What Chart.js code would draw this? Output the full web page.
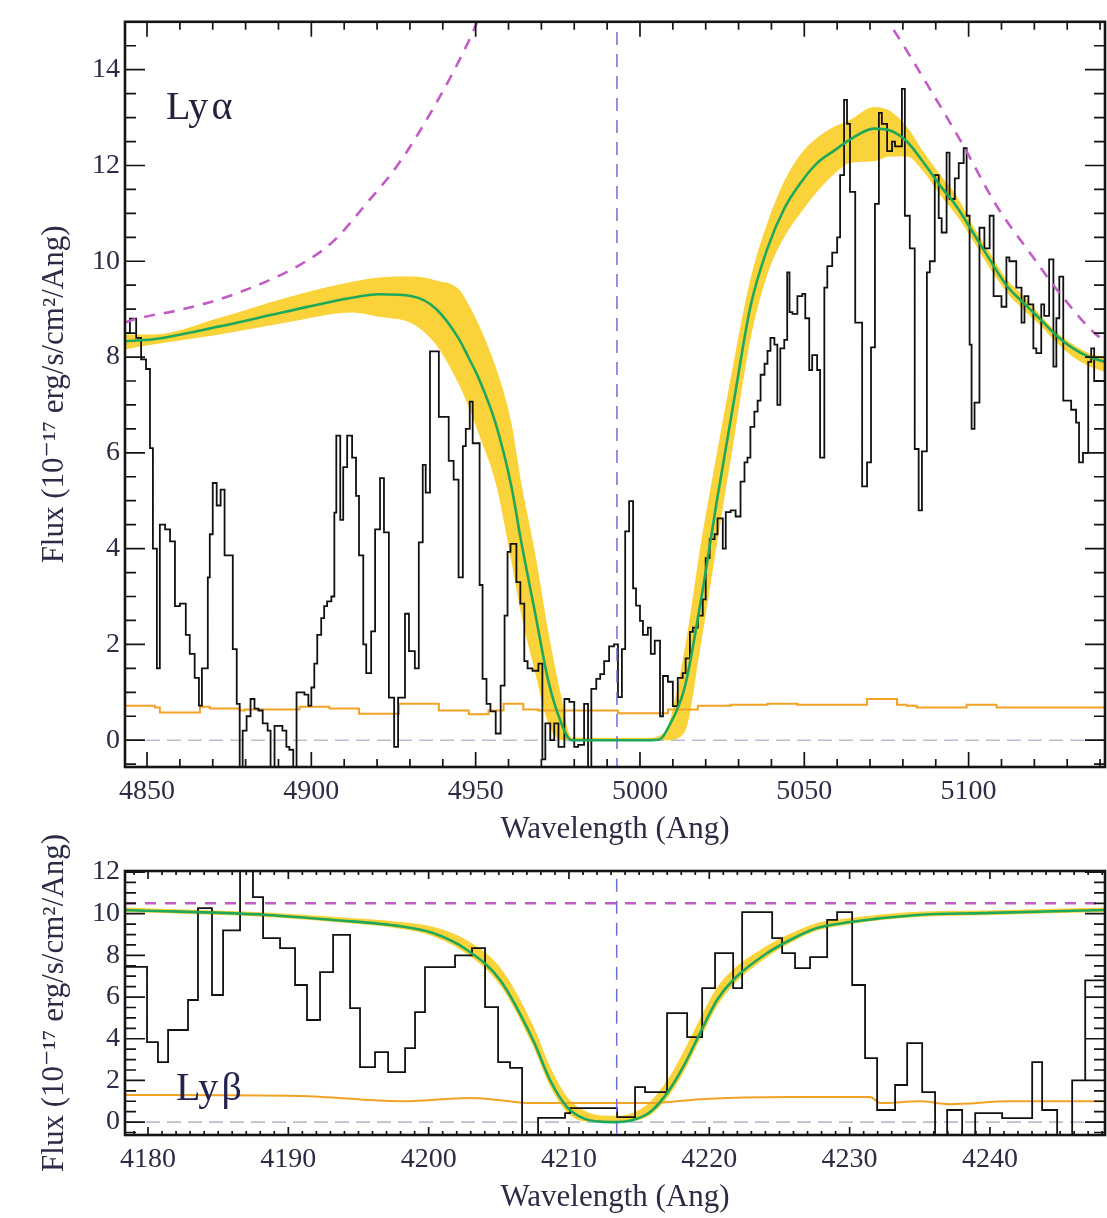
<!DOCTYPE html>
<html><head><meta charset="utf-8">
<script src="https://cdn.jsdelivr.net/npm/chart.js@4.4.1/dist/chart.umd.min.js"></script>
<style>
html,body{margin:0;padding:0;background:#fff;}
#wrap{position:relative;width:1107px;height:1218px;overflow:hidden;background:#fff;}
canvas{position:absolute;left:0;}
#c1{top:0;}
#c2{top:810px;}
</style></head><body>
<div id="wrap"><canvas id="c1" width="1107" height="850"></canvas><canvas id="c2" width="1107" height="408"></canvas></div>
<script>
// ---------- Ly alpha panel ----------
const lyaXRange = [4843.3, 5141.5];
const lyaYRange = [-0.56, 15.0];
const lyaXTicks = [4850, 4900, 4950, 5000, 5050, 5100];
const lyaYTicks = [0, 2, 4, 6, 8, 10, 12, 14];
const lyaCenter = 4993.0;

const lyaWave = [4843.3,4844.8,4846.7,4848.2,4849.7,4850.9,4851.8,4853.0,4853.9,4855.5,
4857.0,4858.5,4860.0,4861.8,4863.0,4864.5,4865.8,4866.7,4868.5,4869.1,
4870.0,4871.2,4872.4,4873.6,4876.1,4877.3,4878.2,4879.1,4880.3,4881.5,
4882.7,4883.9,4885.2,4886.7,4887.6,4888.8,4891.2,4892.4,4893.3,4894.5,
4895.5,4897.9,4899.1,4900.0,4900.9,4901.8,4903.0,4903.9,4904.8,4906.1,
4907.0,4907.6,4908.8,4909.7,4910.9,4912.4,4913.6,4914.5,4915.8,4916.7,
4918.2,4919.4,4920.9,4922.1,4923.6,4925.2,4926.4,4928.5,4929.7,4931.5,
4932.7,4933.9,4934.8,4936.1,4938.8,4941.8,4943.3,4944.8,4946.1,4947.0,
4948.2,4949.1,4951.2,4952.1,4953.3,4954.5,4956.1,4957.6,4958.8,4959.7,
4960.6,4962.4,4963.6,4964.8,4965.8,4967.3,4969.1,4970.3,4971.2,4972.7,
4973.9,4975.2,4977.0,4978.5,4980.0,4981.2,4983.0,4984.2,4985.2,4986.7,
4987.9,4989.1,4990.6,4992.1,4993.3,4994.5,4995.5,4996.7,4997.9,4998.8,
5000.0,5000.9,5002.4,5003.3,5004.5,5006.1,5007.0,5008.5,5010.0,5011.5,
5013.0,5013.9,5015.2,5016.1,5017.6,5019.1,5020.0,5021.2,5022.7,5023.6,
5025.2,5026.1,5027.6,5029.1,5030.6,5031.8,5032.7,5033.6,5034.8,5035.8,
5036.7,5037.9,5038.8,5039.7,5040.9,5041.8,5042.7,5043.9,5044.8,5045.5,
5046.4,5047.9,5049.4,5050.3,5051.5,5052.4,5053.9,5054.8,5056.1,5057.0,
5058.5,5060.0,5060.9,5062.1,5063.0,5063.9,5065.5,5067.6,5069.1,5070.3,
5071.5,5072.7,5073.6,5075.2,5076.7,5077.6,5079.7,5080.6,5082.1,5083.6,
5084.8,5085.8,5087.3,5088.2,5089.7,5090.9,5091.8,5093.3,5094.2,5095.8,
5097.0,5098.5,5099.4,5100.3,5100.9,5101.8,5103.3,5104.8,5106.4,5107.6,
5110.0,5111.5,5112.4,5114.5,5116.1,5117.0,5118.2,5119.7,5120.6,5122.1,
5123.0,5124.5,5125.8,5126.7,5127.6,5128.8,5131.2,5132.7,5133.6,5134.8,
5136.4,5137.3,5138.2,5139.4,5141.5];
const lyaFlux = [8.2,8.5,8.8,8.4,7.95,7.75,6.1,4.0,1.5,4.5,
4.4,4.15,2.8,2.85,2.2,1.8,1.3,0.72,1.5,3.4,
4.3,5.37,4.9,5.23,3.86,1.9,0.76,-0.6,0.2,0.5,
0.86,0.66,0.62,0.35,0.2,-0.6,0.3,0.2,-0.14,-0.2,
-0.6,1.0,0.95,0.72,1.1,1.6,2.2,2.55,2.8,2.9,
3.0,4.75,6.36,4.6,5.7,6.36,5.9,5.1,3.86,2.0,
1.4,2.27,4.4,5.47,4.34,0.89,-0.14,0.89,2.64,1.86,
1.5,4.13,5.75,5.17,8.12,6.75,5.83,5.44,3.4,6.14,
6.5,7.07,6.2,3.24,1.28,0.76,0.6,0.14,1.14,2.6,
3.93,4.1,3.3,2.85,1.65,1.5,1.45,1.6,-0.4,0.35,
0.0,0.35,-0.14,0.86,0.8,-0.14,-0.1,0.76,-0.6,1.07,
1.28,1.38,1.65,1.96,2.0,0.9,1.9,4.36,4.99,3.17,
2.81,2.49,2.2,2.35,1.8,2.08,0.5,1.34,1.22,0.71,
1.3,1.4,1.71,2.26,2.35,2.6,2.94,3.8,4.2,4.3,
4.63,4.0,4.76,4.8,4.67,5.4,5.8,5.9,6.54,6.86,
7.09,7.63,7.86,8.13,8.4,8.26,7.0,8.18,8.36,9.77,
8.94,8.9,9.27,9.32,8.81,7.73,8.04,7.73,5.9,9.45,
9.9,10.18,10.5,11.8,13.37,12.87,11.45,8.72,5.3,5.8,
8.2,11.2,13.1,12.87,12.3,12.5,12.4,13.6,10.95,10.27,
6.08,4.8,6.03,9.77,10.0,11.8,10.9,10.6,12.27,11.3,
11.73,12.05,12.36,10.95,8.26,6.5,7.05,10.7,10.27,10.95,
9.27,9.05,10.08,10.0,9.45,8.72,9.27,9.1,8.18,8.08,
9.1,8.86,10.04,7.8,8.81,9.68,7.09,6.9,6.63,5.8,
6.0,7.9,8.18,7.5,7.5];

const lyaErrWave = [4843.3,4852.4,4853.9,4866.1,4869.1,4878.2,4879.7,4896.4,4905.5,4914.5,4926.7,4938.8,4947.9,4953.9,4958.5,4964.5,4969.1,4993.3,5008.5,5017.6,5027.6,5038.8,5047.9,5069.1,5078.2,5081.2,5084.2,5099.4,5108.5,5119.1,5141.5];
const lyaErrFlux = [0.76,0.72,0.68,0.58,0.70,0.66,0.62,0.64,0.70,0.66,0.55,0.76,0.62,0.54,0.62,0.76,0.64,0.62,0.56,0.64,0.72,0.74,0.76,0.74,0.86,0.74,0.72,0.68,0.74,0.68,0.68];

const lyaModelWave = [4843.3,4851.8,4872.1,4892.4,4912.4,4920.6,4930.6,4937.9,4944.8,4947.9,4950.9,4956.1,4960.9,4963.9,4968.2,4972.1,4976.1,4979.1,4987.3,5002.4,5006.1,5008.5,5013.6,5018.5,5023.6,5028.8,5033.6,5038.8,5043.9,5048.8,5053.9,5059.1,5063.9,5071.2,5076.1,5081.2,5086.4,5091.2,5096.4,5101.5,5106.4,5111.5,5116.7,5121.5,5126.7,5131.8,5136.7,5141.5];
const lyaModelFlux = [8.33,8.37,8.64,8.95,9.24,9.31,9.27,9.01,8.39,7.98,7.56,6.61,5.29,4.13,2.62,1.24,0.35,0.0,0.0,0.0,0.02,0.25,1.1,2.9,5.08,7.17,9.05,10.27,11.1,11.63,12.05,12.31,12.54,12.77,12.73,12.5,12.05,11.59,11.14,10.58,10.04,9.5,9.13,8.81,8.45,8.18,8.0,7.9];
const lyaModelHigh = [8.47,8.47,8.82,9.24,9.57,9.66,9.68,9.6,9.42,9.09,8.68,7.79,6.61,5.37,3.86,2.27,0.89,0.06,0.05,0.05,0.1,0.27,1.9,4.09,6.07,8.0,9.63,10.81,11.67,12.23,12.58,12.81,12.95,13.22,13.14,12.81,12.27,11.82,11.36,10.72,10.19,9.63,9.28,8.9,8.53,8.26,8.08,8.0];
const lyaModelLow = [8.16,8.26,8.47,8.72,8.93,8.84,8.7,8.26,7.44,6.95,6.40,5.37,3.72,2.62,1.38,0.35,0.0,0.0,0.0,0.0,0.0,0.0,0.17,1.98,4.17,6.36,8.37,9.73,10.5,11.0,11.45,11.82,12.05,12.09,12.19,12.19,11.86,11.4,10.95,10.41,9.86,9.36,8.99,8.68,8.31,8.0,7.81,7.69];

const lyaContWave = [4843.3,4845.8,4861.0,4876.1,4896.4,4906.4,4916.7,4926.7,4938.8,4947.9,4956.0,4960.0,5070.0,5076.1,5088.2,5098.5,5108.5,5118.5,5128.8,5138.8,5141.5];
const lyaContFlux = [8.72,8.78,9.0,9.3,9.92,10.4,11.2,12.05,13.4,14.6,15.9,null,15.5,14.94,13.6,12.4,11.16,10.19,9.24,8.47,8.35];

// ---------- Ly beta panel ----------
const lybXRange = [4178.36, 4248.2];
const lybYRange = [-0.62, 12.05];
const lybXTicks = [4180, 4190, 4200, 4210, 4220, 4230, 4240];
const lybYTicks = [0, 2, 4, 6, 8, 10, 12];
const lybCenter = 4213.4;

const lybWave = [4178.36,4179.93,4180.71,4181.43,4182.85,4183.56,4184.56,4185.35,4186.56,4187.48,
4188.20,4189.41,4190.48,4191.33,4192.26,4193.19,4194.40,4195.11,4196.18,4197.11,
4198.32,4199.03,4199.74,4201.88,4203.09,4204.02,4204.95,4205.80,4206.66,4207.80,
4209.72,4210.08,4213.43,4214.71,4215.42,4216.99,4218.42,4219.49,4220.41,4221.70,
4222.34,4224.48,4225.19,4226.11,4227.18,4228.40,4229.11,4230.18,4231.10,4231.96,
4233.24,4234.10,4235.17,4236.09,4236.95,4238.02,4238.95,4240.87,4243.01,4243.72,
4244.79,4245.86,4246.79,4247.64,4248.35];
const lybFlux = [7.15,7.45,3.84,2.88,4.42,5.86,10.27,6.1,9.2,12.5,
10.8,8.83,8.35,6.58,4.9,7.2,8.98,5.47,2.64,3.36,
2.4,3.55,5.28,7.44,8.0,8.35,5.52,2.88,2.6,-0.7,
0.2,0.43,0.67,0.24,1.68,1.44,5.23,4.08,6.43,8.11,
6.43,10.08,8.83,8.11,7.39,7.92,9.7,10.08,6.58,3.07,
0.58,1.78,3.79,1.44,-0.7,0.58,-0.7,0.43,0.19,2.88,
0.58,-0.7,2.0,6.8,6.8];

const lybErrWave = [4178.36,4190.83,4197.96,4202.95,4205.09,4207.23,4215.78,4219.34,4225.76,4231.46,4232.17,4235.02,4237.16,4241.44,4248.35];
const lybErrFlux = [1.3,1.25,1.0,1.15,1.05,0.91,0.91,1.1,1.2,1.2,0.91,1.0,0.86,1.0,1.0];

const lybModelWave = [4178.36,4188.48,4193.19,4197.96,4200.31,4202.74,4205.09,4207.44,4208.65,4209.86,4211.0,4212.22,4213.43,4214.57,4215.78,4216.99,4218.13,4219.34,4220.55,4221.70,4224.12,4225.76,4227.68,4230.04,4234.81,4239.52,4248.35];
const lybModelFlux = [10.18,9.94,9.7,9.4,9.07,8.26,6.82,3.94,2.02,0.72,0.19,0.02,0.0,0.1,0.48,1.39,2.64,4.27,5.86,6.82,8.11,8.74,9.31,9.6,9.94,10.03,10.18];
const lybModelHigh = [10.3,10.06,9.85,9.6,9.37,8.71,7.42,4.64,2.67,1.22,0.59,0.32,0.3,0.45,0.98,1.99,3.34,4.97,6.46,7.32,8.46,9.04,9.56,9.8,10.09,10.15,10.3];
const lybModelLow = [10.08,9.84,9.6,9.28,8.92,8.06,6.57,3.64,1.72,0.47,0.04,0.0,0.0,0.05,0.33,1.14,2.34,3.97,5.56,6.57,7.91,8.59,9.19,9.5,9.84,9.93,10.08];

const lybContWave = [4178.36, 4248.35];
const lybContFlux = [10.5, 10.5];

// ---------- styling ----------
const SERIF = '"Liberation Serif", "DejaVu Serif", serif';
const TXT = '#2c2c46';
const YELLOW = 'rgb(250,210,58)';
const GREEN = '#1ea85c';
const ORANGE = '#f2a325';
const MAGENTA = '#c25cc6';
const BLUEV = '#6e6ed8';
const ZEROC = '#b9c0cd';

const pts = (xs, ys) => xs.map((x, i) => ({x: x, y: ys[i]}));

const framePlugin = {
  id: 'frameTicks',
  afterDatasetsDraw(chart, args, o) {
    const ctx = chart.ctx, a = chart.chartArea;
    const xs = chart.scales.x, ys = chart.scales.y;
    const isMaj = (v, m) => Math.abs(v / m - Math.round(v / m)) < 1e-6;
    ctx.save();
    ctx.strokeStyle = '#141414';
    ctx.lineWidth = 1.7;
    ctx.beginPath();
    for (let k = Math.ceil(xs.min / o.xMinor - 1e-9); k * o.xMinor <= xs.max + 1e-9; k++) {
      const v = k * o.xMinor;
      const p = xs.getPixelForValue(v);
      const L = isMaj(v, o.xMajor) ? o.xMajLen : o.xMinLen;
      ctx.moveTo(p, a.bottom); ctx.lineTo(p, a.bottom - L);
      ctx.moveTo(p, a.top); ctx.lineTo(p, a.top + L);
    }
    for (let k = Math.ceil(ys.min / o.yMinor - 1e-9); k * o.yMinor <= ys.max + 1e-9; k++) {
      const v = k * o.yMinor;
      const p = ys.getPixelForValue(v);
      const L = isMaj(v, o.yMajor) ? o.yMajLen : o.yMinLen;
      ctx.moveTo(a.left, p); ctx.lineTo(a.left + L, p);
      ctx.moveTo(a.right, p); ctx.lineTo(a.right - L, p);
    }
    ctx.stroke();
    ctx.lineWidth = 2.6;
    ctx.strokeRect(a.left, a.top, a.right - a.left, a.bottom - a.top);
    if (o.label) {
      ctx.font = o.label.font;
      ctx.fillStyle = o.label.color;
      ctx.textBaseline = 'alphabetic';
      ctx.textAlign = 'left';
      ctx.fillText(o.label.text, a.left + o.label.dx, a.top + o.label.dy);
    }
    ctx.restore();
  }
};

function makeChart(id, d) {
  const datasets = [
    {data: pts(d.mw, d.mh), borderColor: 'rgba(0,0,0,0)', borderWidth: 0, backgroundColor: YELLOW, fill: '+1', pointRadius: 0, cubicInterpolationMode: 'monotone', order: 10},
    {data: pts(d.mw, d.ml), borderColor: 'rgba(0,0,0,0)', borderWidth: 0, fill: false, pointRadius: 0, cubicInterpolationMode: 'monotone', order: 10},
    {data: pts(d.xr, [0, 0]), borderColor: ZEROC, borderWidth: 1.6, borderDash: [14, 7], pointRadius: 0, fill: false, order: 9},
    {data: pts(d.ew, d.ef), borderColor: ORANGE, borderWidth: 2, pointRadius: 0, fill: false, stepped: d.errStep ? 'after' : false, cubicInterpolationMode: 'monotone', order: 8},
    {data: pts(d.sw, d.sf), borderColor: '#111', borderWidth: 1.8, pointRadius: 0, fill: false, stepped: 'after', order: 7},
    {data: pts([d.center, d.center], [d.yr[0] - 1, d.yr[1] + 1]), borderColor: BLUEV, borderWidth: 1.5, borderDash: [13, 9], pointRadius: 0, fill: false, order: 6},
    {data: pts(d.mw, d.mf), borderColor: GREEN, borderWidth: 2.6, pointRadius: 0, fill: false, cubicInterpolationMode: 'monotone', order: 5},
    {data: pts(d.cw, d.cf), borderColor: MAGENTA, borderWidth: 2.6, borderDash: [11, 9], pointRadius: 0, fill: false, spanGaps: false, cubicInterpolationMode: 'monotone', order: 4}
  ];
  return new Chart(document.getElementById(id), {
    type: 'line',
    data: {datasets: datasets},
    plugins: [framePlugin],
    options: {
      responsive: false, animation: false, devicePixelRatio: 1, events: [],
      layout: {padding: {top: d.padTop, right: 2, left: 0, bottom: 0}},
      plugins: {legend: {display: false}, tooltip: {enabled: false},
        frameTicks: d.frame},
      scales: {
        x: {type: 'linear', min: d.xr[0], max: d.xr[1],
          grid: {display: false, drawTicks: false}, border: {display: false},
          afterBuildTicks: s => { s.ticks = d.xt.map(v => ({value: v})); },
          afterFit: s => { s.height = 83; },
          ticks: {padding: 8, color: TXT, font: {family: SERIF, size: 28}, maxRotation: 0, autoSkip: false, callback: v => String(v)},
          title: {display: true, text: 'Wavelength (Ang)', color: TXT, font: {family: SERIF, size: 31}, padding: {top: 0, bottom: 2}}},
        y: {type: 'linear', min: d.yr[0], max: d.yr[1],
          grid: {display: false, drawTicks: false}, border: {display: false},
          afterBuildTicks: s => { s.ticks = d.yt.map(v => ({value: v})); },
          afterFit: s => { s.width = 125; },
          ticks: {padding: 5, color: TXT, font: {family: SERIF, size: 28}, autoSkip: false, callback: v => String(v)},
          title: {display: true, text: 'Flux (10\u207B\u00B9\u2077 erg/s/cm\u00B2/Ang)', color: TXT, font: {family: SERIF, size: 31}, padding: {top: 36, bottom: 0}}}
      }
    }
  });
}

makeChart('c1', {
  xr: lyaXRange, yr: lyaYRange, xt: lyaXTicks, yt: lyaYTicks, center: lyaCenter,
  sw: lyaWave, sf: lyaFlux, ew: lyaErrWave, ef: lyaErrFlux, errStep: true,
  mw: lyaModelWave, mf: lyaModelFlux, mh: lyaModelHigh, ml: lyaModelLow,
  cw: lyaContWave, cf: lyaContFlux, padTop: 14,
  frame: {xMajor: 50, xMinor: 10, yMajor: 2, yMinor: 0.5, xMajLen: 15, xMinLen: 8, yMajLen: 20, yMinLen: 11,
    label: {text: 'Ly\u200A\u03B1', dx: 41, dy: 97, font: '40px ' + SERIF, color: '#232340'}}
});

makeChart('c2', {
  xr: lybXRange, yr: lybYRange, xt: lybXTicks, yt: lybYTicks, center: lybCenter,
  sw: lybWave, sf: lybFlux, ew: lybErrWave, ef: lybErrFlux, errStep: false,
  mw: lybModelWave, mf: lybModelFlux, mh: lybModelHigh, ml: lybModelLow,
  cw: lybContWave, cf: lybContFlux, padTop: 61,
  frame: {xMajor: 10, xMinor: 1, yMajor: 2, yMinor: 0.5, xMajLen: 8, xMinLen: 4, yMajLen: 20, yMinLen: 11,
    label: {text: 'Ly\u200A\u03B2', dx: 51, dy: 229, font: '40px ' + SERIF, color: '#232350'}}
});
</script>
</body></html>
